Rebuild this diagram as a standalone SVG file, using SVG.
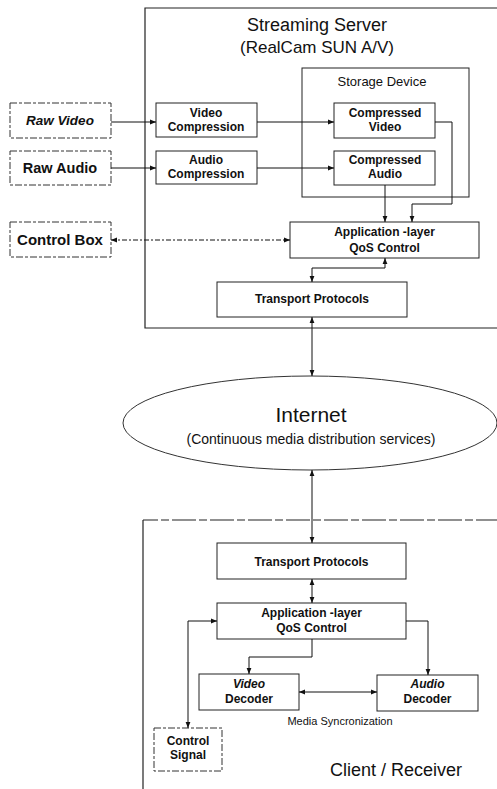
<svg xmlns="http://www.w3.org/2000/svg" width="497" height="789" viewBox="0 0 497 789">
<style>
.box{fill:#fff;stroke:#222;stroke-width:1}
.dbox{fill:#fff;stroke:#333;stroke-width:1;stroke-dasharray:7 2 3 2}
.frame{fill:none;stroke:#222;stroke-width:1.2}
.ln{fill:none;stroke:#111;stroke-width:1}
.dl{fill:none;stroke:#111;stroke-width:1;stroke-dasharray:5 2 2 2}
text{font-family:"Liberation Sans",Arial,sans-serif;fill:#111;text-anchor:middle}
.b{font-weight:bold;font-size:12px}
.bi{font-weight:bold;font-style:italic;font-size:12px}
</style>
<defs>
<marker id="ah" viewBox="0 0 10 10" refX="10" refY="5" markerWidth="6" markerHeight="6" orient="auto-start-reverse" markerUnits="userSpaceOnUse">
<path d="M0,1 L10,5 L0,9 z" fill="#111"/>
</marker>
</defs>
<rect x="0" y="0" width="497" height="789" fill="#fff"/>

<g id="server">
<path class="frame" d="M500,8 H145 V328 H500"/>
<text x="317" y="31" font-size="18">Streaming Server</text>
<text x="317" y="53" font-size="17">(RealCam SUN A/V)</text>
</g>
<g id="storage">
<rect class="box" x="302" y="68" width="167" height="129"/>
<text x="382" y="86" font-size="13">Storage Device</text>
</g>
<g id="client">
<path class="frame" d="M500,520 H143" stroke-dasharray="24 3 8 3"/>
<path class="frame" d="M143,520 V792"/>
<text x="396" y="776" font-size="18">Client / Receiver</text>
</g>

<g id="raw-video">
<rect class="dbox" x="10" y="103" width="101" height="35"/>
<text x="60" y="125" font-size="13.5" font-weight="bold" font-style="italic">Raw Video</text>
</g>
<g id="raw-audio">
<rect class="dbox" x="10" y="151" width="101" height="34"/>
<text x="60" y="173" font-size="14.5" font-weight="bold">Raw Audio</text>
</g>
<g id="control-box">
<rect class="dbox" x="10" y="222" width="101" height="35"/>
<text x="60" y="245" font-size="15" font-weight="bold">Control Box</text>
</g>
<g id="video-compression">
<rect class="box" x="156" y="103" width="101" height="34"/>
<text class="b" x="206" y="117">Video</text>
<text class="b" x="206" y="131">Compression</text>
</g>
<g id="audio-compression">
<rect class="box" x="156" y="151" width="101" height="33"/>
<text class="b" x="206" y="164">Audio</text>
<text class="b" x="206" y="178">Compression</text>
</g>
<g id="compressed-video">
<rect class="box" x="334" y="103" width="101" height="35"/>
<text class="b" x="385" y="117">Compressed</text>
<text class="b" x="385" y="131">Video</text>
</g>
<g id="compressed-audio">
<rect class="box" x="334" y="151" width="101" height="34"/>
<text class="b" x="385" y="164">Compressed</text>
<text class="b" x="385" y="178">Audio</text>
</g>
<g id="server-qos">
<rect class="box" x="290" y="222" width="189" height="36"/>
<text class="b" x="384.5" y="236">Application -layer</text>
<text class="b" x="384.5" y="252">QoS Control</text>
</g>
<g id="server-transport">
<rect class="box" x="217" y="282" width="190" height="35"/>
<text class="b" x="312" y="303">Transport Protocols</text>
</g>
<g id="internet">
<ellipse cx="310" cy="423" rx="187" ry="47" fill="none" stroke="#333" stroke-width="1"/>
<text x="311" y="422" font-size="21">Internet</text>
<text x="311" y="444" font-size="14">(Continuous media distribution services)</text>
</g>
<g id="client-transport">
<rect class="box" x="217" y="543" width="189" height="36"/>
<text class="b" x="311.5" y="566">Transport Protocols</text>
</g>
<g id="client-qos">
<rect class="box" x="217" y="603" width="189" height="36"/>
<text class="b" x="311.5" y="617">Application -layer</text>
<text class="b" x="311.5" y="632">QoS Control</text>
</g>
<g id="video-decoder">
<rect class="box" x="199" y="674" width="100" height="36"/>
<text class="bi" x="249" y="688">Video</text>
<text class="b" x="249" y="703">Decoder</text>
</g>
<g id="audio-decoder">
<rect class="box" x="377" y="675" width="101" height="36"/>
<text class="bi" x="427.5" y="688">Audio</text>
<text class="b" x="427.5" y="703">Decoder</text>
</g>
<g id="control-signal">
<rect class="dbox" x="154" y="728" width="68" height="43"/>
<text class="b" x="188" y="745">Control</text>
<text class="b" x="188" y="759">Signal</text>
</g>
<text x="340" y="725" font-size="11">Media Syncronization</text>

<g id="connectors">
<line class="ln" x1="111" y1="122" x2="156" y2="122" marker-end="url(#ah)"/>
<line class="ln" x1="257" y1="122" x2="334" y2="122" marker-end="url(#ah)"/>
<line class="ln" x1="111" y1="168" x2="156" y2="168" marker-end="url(#ah)"/>
<line class="ln" x1="257" y1="168" x2="334" y2="168" marker-end="url(#ah)"/>
<path class="ln" d="M435,122 H452 V204 H412 V222" marker-end="url(#ah)"/>
<path class="ln" d="M385,185 V222" marker-end="url(#ah)"/>
<line class="dl" x1="111" y1="240" x2="290" y2="240" marker-start="url(#ah)" marker-end="url(#ah)"/>
<path class="ln" d="M385,258 V268 H312 V282" marker-start="url(#ah)" marker-end="url(#ah)"/>
<line class="ln" x1="312" y1="317" x2="312" y2="376" marker-start="url(#ah)" marker-end="url(#ah)"/>
<line class="ln" x1="312" y1="470" x2="312" y2="543" marker-start="url(#ah)" marker-end="url(#ah)"/>
<line class="ln" x1="312" y1="579" x2="312" y2="603" marker-start="url(#ah)" marker-end="url(#ah)"/>
<path class="ln" d="M312,639 V657 H249 V674" marker-end="url(#ah)"/>
<path class="ln" d="M406,621 H428 V675" marker-end="url(#ah)"/>
<line class="ln" x1="299" y1="692" x2="377" y2="692" marker-start="url(#ah)" marker-end="url(#ah)"/>
<path class="ln" d="M188,728 V621 H217" marker-start="url(#ah)" marker-end="url(#ah)"/>
</g>
</svg>
